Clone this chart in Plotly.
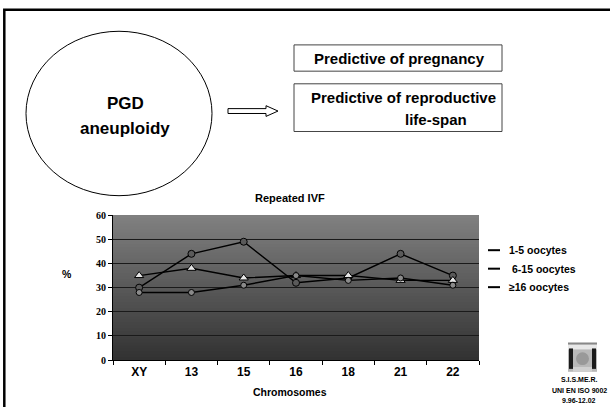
import plotly.graph_objects as go

W, H = 610, 407

categories = ["XY", "13", "15", "16", "18", "21", "22"]
series_names = ["1-5 oocytes", "6-15 oocytes", "≥16 oocytes"]
s_1_5 = [30, 44, 49, 32, 34, 44, 35]
s_6_15 = [35, 38, 34, 35, 35, 33, 33]
s_16 = [28, 28, 31, 35, 33, 34, 31]
y_ticks = [0, 10, 20, 30, 40, 50, 60]
sig_labels = [("13", 44, "a", "above"), ("15", 49, "b", "above"),
              ("13", 28, "a", "below"), ("15", 31, "b", "below")]

def px(x):
    return x / W

def py(y):
    return 1 - y / H

SANS = "Liberation Sans, Arial, sans-serif"
SERIF = "Liberation Serif, Times New Roman, serif"

fig = go.Figure()

marker_styles = [
    dict(symbol="circle", size=7, color="#5a5a5a", line=dict(color="black", width=1)),
    dict(symbol="triangle-up", size=8, color="#e6e6e6", line=dict(color="black", width=1)),
    dict(symbol="circle", size=6, color="#8a8a8a", line=dict(color="black", width=1)),
]
for name, vals, mk in zip(series_names, [s_1_5, s_6_15, s_16], marker_styles):
    fig.add_trace(go.Scatter(x=categories, y=vals, name=name, mode="lines+markers",
                             line=dict(color="black", width=1.4), marker=mk,
                             showlegend=False))

x0d, x1d = px(113), px(479)
y0d, y1d = py(365), py(216)

shapes = []
# gradient background of plot area (bands drawn bottom-up, each overlapping the next)
N = 50
top = (128, 128, 128)
bot = (50, 50, 50)
for i in range(N):
    t = i / (N - 1)
    c = tuple(int(round(bot[k] + (top[k] - bot[k]) * t)) for k in range(3))
    shapes.append(dict(type="rect", xref="x domain", yref="y domain",
                       x0=0, x1=1, y0=i / N, y1=1,
                       fillcolor="rgb(%d,%d,%d)" % c, line=dict(width=0), layer="below"))

# slide frame
shapes.append(dict(type="rect", xref="paper", yref="paper",
                   x0=px(4.3), x1=px(640), y0=py(5), y1=py(440),
                   line=dict(color="black", width=2.5), fillcolor="rgba(0,0,0,0)"))
# ellipse
shapes.append(dict(type="circle", xref="paper", yref="paper",
                   x0=px(26), x1=px(212), y0=py(196), y1=py(27),
                   line=dict(color="black", width=1), fillcolor="white"))
# hollow arrow
ax = [228, 266, 266, 278, 266, 266, 228]
ay = [106.5, 106.5, 103.5, 109, 114.5, 111.5, 111.5]
path = "M " + " L ".join("%f,%f" % (px(a), py(b)) for a, b in zip(ax, ay)) + " Z"
shapes.append(dict(type="path", xref="paper", yref="paper", path=path,
                   line=dict(color="black", width=1), fillcolor="white"))
# boxes
shapes.append(dict(type="rect", xref="paper", yref="paper",
                   x0=px(294), x1=px(502), y0=py(68), y1=py(41),
                   line=dict(color="#444", width=1), fillcolor="white"))
shapes.append(dict(type="rect", xref="paper", yref="paper",
                   x0=px(294), x1=px(502), y0=py(130), y1=py(81),
                   line=dict(color="#444", width=1), fillcolor="white"))
# legend dashes
for yy in [252, 271, 290]:
    shapes.append(dict(type="line", xref="paper", yref="paper",
                       x0=px(488), x1=px(500), y0=py(yy), y1=py(yy),
                       line=dict(color="black", width=2)))
# logo
def prect(x0, x1, y0, y1, fill):
    shapes.append(dict(type="rect", xref="paper", yref="paper",
                       x0=px(x0), x1=px(x1), y0=py(y1), y1=py(y0),
                       line=dict(width=0), fillcolor=fill))
prect(568, 597, 347, 377, "#b8b8b8")
prect(568, 597, 347, 354, "#e8e8e8")
prect(569, 573, 353, 374, "#1a1a1a")
prect(592, 596, 353, 374, "#1a1a1a")
prect(568, 597, 347, 349, "#888888")
prect(573, 592, 372, 377, "#d0d0d0")
shapes.append(dict(type="circle", xref="paper", yref="paper",
                   x0=px(576), x1=px(589), y0=py(370), y1=py(357),
                   line=dict(width=0), fillcolor="#999999"))

annotations = []
def txt(x, y, s, size, family=SANS, anchor="center", weight="bold"):
    annotations.append(dict(xref="paper", yref="paper", x=px(x), y=py(y), text=s,
                            showarrow=False, xanchor=anchor, yanchor="middle",
                            font=dict(family=family, size=size, color="black", weight=weight)))

txt(125, 101, "PGD", 17)
txt(125, 127, "aneuploidy", 17)
txt(400, 55, "Predictive of pregnancy", 15)
txt(403, 95, "Predictive of reproductive", 15)
txt(436, 118, "life-span", 15)
txt(290, 198, "Repeated IVF", 11)
txt(290, 398, "Chromosomes", 10.5)
txt(67, 276, "%", 10.5)
for yy, nm in zip([252, 271, 290], series_names):
    txt(507 if not nm.startswith("6") else 510, yy, nm, 10.5, anchor="left")
txt(579, 385, "S.I.S.ME.R.", 7)
txt(579, 396, "UNI EN ISO 9002", 7)
txt(579, 406, "9.96-12.02", 7)

for cat, val, lab, pos in sig_labels:
    annotations.append(dict(xref="x", yref="y", x=cat, y=val, text=lab, showarrow=False,
                            yshift=10 if pos == "above" else -10, xanchor="center",
                            yanchor="middle",
                            font=dict(family=SANS, size=11, color="black", weight="bold")))

fig.update_layout(
    width=W, height=H, margin=dict(l=0, r=0, t=0, b=0),
    paper_bgcolor="white", plot_bgcolor="rgba(0,0,0,0)",
    shapes=shapes, annotations=annotations, showlegend=False,
    xaxis=dict(domain=[x0d, x1d], type="category", categoryorder="array",
               categoryarray=categories, range=[-0.5, 6.5],
               showgrid=False, zeroline=False, showline=True, linecolor="black",
               linewidth=1, ticks="outside", tickson="boundaries", ticklen=4,
               tickcolor="black",
               tickfont=dict(family=SANS, size=12, color="black", weight="bold")),
    yaxis=dict(domain=[y0d, y1d], range=[0, 60], tickvals=y_ticks,
               showgrid=True, gridcolor="#1a1a1a", gridwidth=1.3, zeroline=False,
               showline=True, linecolor="black", linewidth=1, ticks="outside",
               ticklen=4, tickcolor="black",
               tickfont=dict(family=SERIF, size=10, color="black", weight="bold")),
)

fig.write_html("out.html")
